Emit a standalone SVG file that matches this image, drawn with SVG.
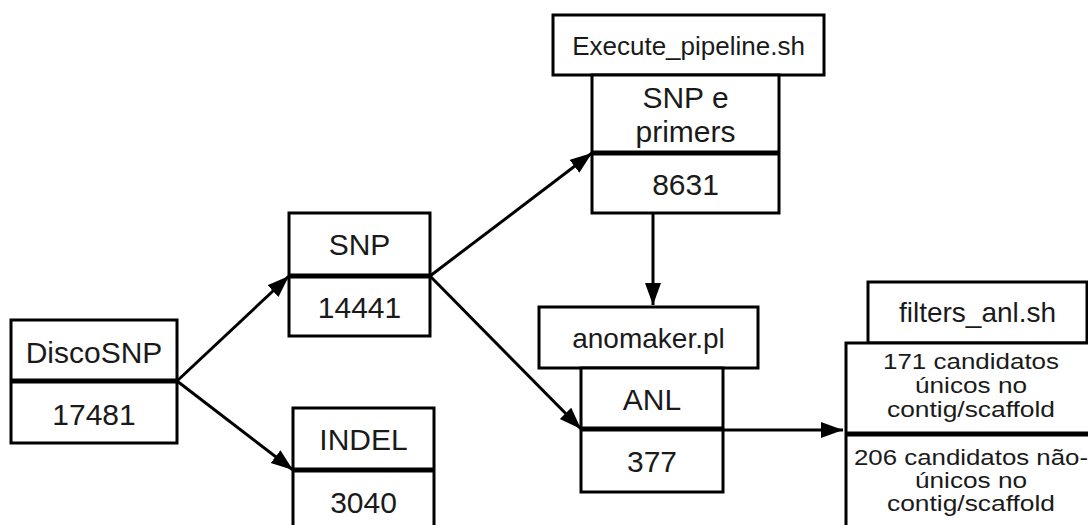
<svg xmlns="http://www.w3.org/2000/svg" width="1088" height="525" viewBox="0 0 1088 525">
<style>
.box{fill:#fff;stroke:#000;stroke-width:3}
.div{stroke:#000;stroke-width:5}
.t{font-family:"Liberation Sans",Arial,sans-serif;fill:#1a1a1a;text-anchor:middle}
.m{font-size:30px}
.s{font-size:28px}
.c{font-size:26px}
.d{font-size:22px}
.e{stroke:#000;stroke-width:3;fill:none}
</style>
<defs>
<marker id="ah" markerUnits="userSpaceOnUse" markerWidth="24" markerHeight="18" refX="22" refY="8" orient="auto">
<path d="M0,0 L22,8 L0,16 Z" fill="#000"/>
</marker>
</defs>
<rect width="1088" height="525" fill="#fff"/>
<g id="connectors">
<line class="e" x1="177" y1="381" x2="289" y2="276" marker-end="url(#ah)"/>
<line class="e" x1="177" y1="381" x2="293" y2="470" marker-end="url(#ah)"/>
<line class="e" x1="430" y1="276" x2="592" y2="153" marker-end="url(#ah)"/>
<line class="e" x1="430" y1="276" x2="581" y2="429" marker-end="url(#ah)"/>
<line class="e" x1="653" y1="213" x2="653" y2="305" marker-end="url(#ah)"/>
<line class="e" x1="723" y1="430" x2="843" y2="430" marker-end="url(#ah)"/>
</g>
<g id="discosnp">
<rect class="box" x="11" y="320" width="166" height="123"/>
<line class="div" x1="11" y1="381" x2="177" y2="381"/>
<text class="t m" x="94" y="363">DiscoSNP</text>
<text class="t m" x="94" y="425">17481</text>
</g>
<g id="snp">
<rect class="box" x="289" y="213" width="141" height="123"/>
<line class="div" x1="289" y1="276" x2="430" y2="276"/>
<text class="t m" x="359.5" y="255">SNP</text>
<text class="t m" x="359.5" y="318">14441</text>
</g>
<g id="indel">
<rect class="box" x="293" y="408" width="141" height="140"/>
<line class="div" x1="293" y1="470" x2="434" y2="470"/>
<text class="t m" x="363.5" y="450">INDEL</text>
<text class="t m" x="363.5" y="513">3040</text>
</g>
<g id="execute_pipeline">
<rect class="box" x="553" y="15" width="271" height="60"/>
<text class="t c" x="688.5" y="55">Execute_pipeline.sh</text>
</g>
<g id="snp_primers">
<rect class="box" x="592" y="75" width="187" height="138"/>
<line class="div" x1="592" y1="153" x2="779" y2="153"/>
<text class="t m" x="685.5" y="108">SNP e</text>
<text class="t m" x="685.5" y="142">primers</text>
<text class="t m" x="685.5" y="195">8631</text>
</g>
<g id="anomaker">
<rect class="box" x="539" y="307" width="219" height="61"/>
<text class="t s" x="648.5" y="348">anomaker.pl</text>
</g>
<g id="anl">
<rect class="box" x="581" y="368" width="142" height="124"/>
<line class="div" x1="581" y1="429" x2="723" y2="429"/>
<text class="t m" x="652" y="410">ANL</text>
<text class="t m" x="652" y="472">377</text>
</g>
<g id="filters_anl">
<rect class="box" x="868" y="282" width="219" height="61"/>
<text class="t s" x="977.5" y="322">filters_anl.sh</text>
</g>
<g id="candidatos">
<rect class="box" x="846" y="343" width="250" height="200"/>
<line class="div" x1="846" y1="434" x2="1096" y2="434"/>
<text class="t d" x="971" y="369" textLength="176" lengthAdjust="spacingAndGlyphs">171 candidatos</text>
<text class="t d" x="971" y="393" textLength="112" lengthAdjust="spacingAndGlyphs">únicos no</text>
<text class="t d" x="971" y="417" textLength="168" lengthAdjust="spacingAndGlyphs">contig/scaffold</text>
<text class="t d" x="971" y="465" textLength="234" lengthAdjust="spacingAndGlyphs">206 candidatos não-</text>
<text class="t d" x="971" y="488" textLength="112" lengthAdjust="spacingAndGlyphs">únicos no</text>
<text class="t d" x="971" y="511" textLength="168" lengthAdjust="spacingAndGlyphs">contig/scaffold</text>
</g>
</svg>
